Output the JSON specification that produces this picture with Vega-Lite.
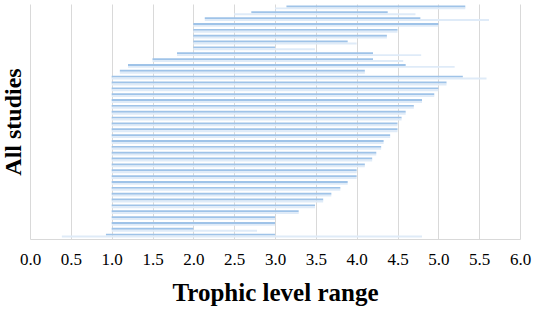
{
  "$schema": "https://vega.github.io/schema/vega-lite/v6.json",
  "autosize": {"type": "none"},
  "padding": {"left": 30, "top": 4, "right": 16, "bottom": 76},
  "width": 490,
  "height": 235,
  "background": "white",
  "data": {
    "values": [
      {"study": 1, "series": "a", "start": 3.14, "end": 5.33},
      {"study": 1, "series": "b", "start": 3.0, "end": 5.33},
      {"study": 2, "series": "a", "start": 2.71, "end": 4.38},
      {"study": 2, "series": "b", "start": 2.5, "end": 4.72},
      {"study": 3, "series": "a", "start": 2.14, "end": 4.78},
      {"study": 3, "series": "b", "start": 2.14, "end": 5.62},
      {"study": 4, "series": "a", "start": 2.0, "end": 5.0},
      {"study": 4, "series": "b", "start": 2.0, "end": 5.0},
      {"study": 5, "series": "a", "start": 2.0, "end": 4.5},
      {"study": 5, "series": "b", "start": 2.0, "end": 4.5},
      {"study": 6, "series": "a", "start": 2.0, "end": 4.37},
      {"study": 6, "series": "b", "start": 2.0, "end": 4.37},
      {"study": 7, "series": "a", "start": 2.0, "end": 3.89},
      {"study": 7, "series": "b", "start": 2.0, "end": 4.0},
      {"study": 8, "series": "a", "start": 2.0, "end": 3.0},
      {"study": 8, "series": "b", "start": 2.0, "end": 3.49},
      {"study": 9, "series": "a", "start": 1.8, "end": 4.2},
      {"study": 9, "series": "b", "start": 1.8, "end": 4.79},
      {"study": 10, "series": "a", "start": 1.5, "end": 4.2},
      {"study": 10, "series": "b", "start": 1.5, "end": 4.57},
      {"study": 11, "series": "a", "start": 1.2, "end": 4.6},
      {"study": 11, "series": "b", "start": 1.2, "end": 5.2},
      {"study": 12, "series": "a", "start": 1.1, "end": 4.1},
      {"study": 12, "series": "b", "start": 1.1, "end": 4.1},
      {"study": 13, "series": "a", "start": 1.0, "end": 5.3},
      {"study": 13, "series": "b", "start": 1.0, "end": 5.59},
      {"study": 14, "series": "a", "start": 1.0, "end": 5.1},
      {"study": 14, "series": "b", "start": 1.0, "end": 5.1},
      {"study": 15, "series": "a", "start": 1.0, "end": 5.0},
      {"study": 15, "series": "b", "start": 1.0, "end": 5.0},
      {"study": 16, "series": "a", "start": 1.0, "end": 4.95},
      {"study": 16, "series": "b", "start": 1.0, "end": 4.95},
      {"study": 17, "series": "a", "start": 1.0, "end": 4.8},
      {"study": 17, "series": "b", "start": 1.0, "end": 4.8},
      {"study": 18, "series": "a", "start": 1.0, "end": 4.7},
      {"study": 18, "series": "b", "start": 1.0, "end": 4.7},
      {"study": 19, "series": "a", "start": 1.0, "end": 4.6},
      {"study": 19, "series": "b", "start": 1.0, "end": 4.6},
      {"study": 20, "series": "a", "start": 1.0, "end": 4.55},
      {"study": 20, "series": "b", "start": 1.0, "end": 4.55},
      {"study": 21, "series": "a", "start": 1.0, "end": 4.5},
      {"study": 21, "series": "b", "start": 1.0, "end": 4.5},
      {"study": 22, "series": "a", "start": 1.0, "end": 4.5},
      {"study": 22, "series": "b", "start": 1.0, "end": 4.5},
      {"study": 23, "series": "a", "start": 1.0, "end": 4.41},
      {"study": 23, "series": "b", "start": 1.0, "end": 4.41},
      {"study": 24, "series": "a", "start": 1.0, "end": 4.33},
      {"study": 24, "series": "b", "start": 1.0, "end": 4.33},
      {"study": 25, "series": "a", "start": 1.0, "end": 4.3},
      {"study": 25, "series": "b", "start": 1.0, "end": 4.3},
      {"study": 26, "series": "a", "start": 1.0, "end": 4.24},
      {"study": 26, "series": "b", "start": 1.0, "end": 4.24},
      {"study": 27, "series": "a", "start": 1.0, "end": 4.19},
      {"study": 27, "series": "b", "start": 1.0, "end": 4.19},
      {"study": 28, "series": "a", "start": 1.0, "end": 4.1},
      {"study": 28, "series": "b", "start": 1.0, "end": 4.1},
      {"study": 29, "series": "a", "start": 1.0, "end": 4.0},
      {"study": 29, "series": "b", "start": 1.0, "end": 4.0},
      {"study": 30, "series": "a", "start": 1.0, "end": 4.0},
      {"study": 30, "series": "b", "start": 1.0, "end": 4.0},
      {"study": 31, "series": "a", "start": 1.0, "end": 3.89},
      {"study": 31, "series": "b", "start": 1.0, "end": 3.89},
      {"study": 32, "series": "a", "start": 1.0, "end": 3.8},
      {"study": 32, "series": "b", "start": 1.0, "end": 3.8},
      {"study": 33, "series": "a", "start": 1.0, "end": 3.69},
      {"study": 33, "series": "b", "start": 1.0, "end": 3.69},
      {"study": 34, "series": "a", "start": 1.0, "end": 3.59},
      {"study": 34, "series": "b", "start": 1.0, "end": 3.59},
      {"study": 35, "series": "a", "start": 1.0, "end": 3.49},
      {"study": 35, "series": "b", "start": 1.0, "end": 3.49},
      {"study": 36, "series": "a", "start": 1.0, "end": 3.29},
      {"study": 36, "series": "b", "start": 1.0, "end": 3.29},
      {"study": 37, "series": "a", "start": 1.0, "end": 3.0},
      {"study": 37, "series": "b", "start": 1.0, "end": 3.0},
      {"study": 38, "series": "a", "start": 1.0, "end": 3.0},
      {"study": 38, "series": "b", "start": 1.0, "end": 3.0},
      {"study": 39, "series": "a", "start": 1.0, "end": 2.0},
      {"study": 39, "series": "b", "start": 1.0, "end": 2.78},
      {"study": 40, "series": "a", "start": 0.93, "end": 3.0},
      {"study": 40, "series": "b", "start": 0.39, "end": 4.8}
    ]
  },
  "mark": {"type": "bar", "cornerRadius": 0},
  "encoding": {
    "y": {
      "field": "study",
      "type": "ordinal",
      "sort": "ascending",
      "scale": {"paddingInner": 0.35, "paddingOuter": 0.26},
      "axis": {
        "title": "All studies",
        "labels": false,
        "ticks": false,
        "domain": false,
        "grid": false,
        "titleFont": "Liberation Serif",
        "titleFontSize": 24,
        "titleFontWeight": "bold",
        "titleColor": "#000000",
        "titlePadding": 5
      }
    },
    "yOffset": {"field": "series", "type": "nominal", "scale": {"paddingInner": 0, "paddingOuter": 0}},
    "x": {
      "field": "start",
      "type": "quantitative",
      "scale": {"domain": [0, 6], "nice": false},
      "axis": {
        "title": "Trophic level range",
        "values": [0, 0.5, 1, 1.5, 2, 2.5, 3, 3.5, 4, 4.5, 5, 5.5, 6],
        "format": ".1f",
        "ticks": false,
        "domain": true,
        "domainColor": "#d9d9d9",
        "grid": true,
        "gridColor": "#d9d9d9",
        "labelFlush": false,
        "labelOverlap": false,
        "labelFont": "Liberation Serif",
        "labelFontSize": 17,
        "labelColor": "#000000",
        "labelPadding": 12,
        "titleFont": "Liberation Serif",
        "titleFontSize": 25,
        "titleFontWeight": "bold",
        "titleColor": "#000000",
        "titlePadding": 13
      }
    },
    "x2": {"field": "end"},
    "color": {
      "field": "series",
      "type": "nominal",
      "scale": {"domain": ["a", "b"], "range": ["#9fc3e8", "#dfebf8"]},
      "legend": null
    }
  },
  "config": {"view": {"stroke": null}}
}
